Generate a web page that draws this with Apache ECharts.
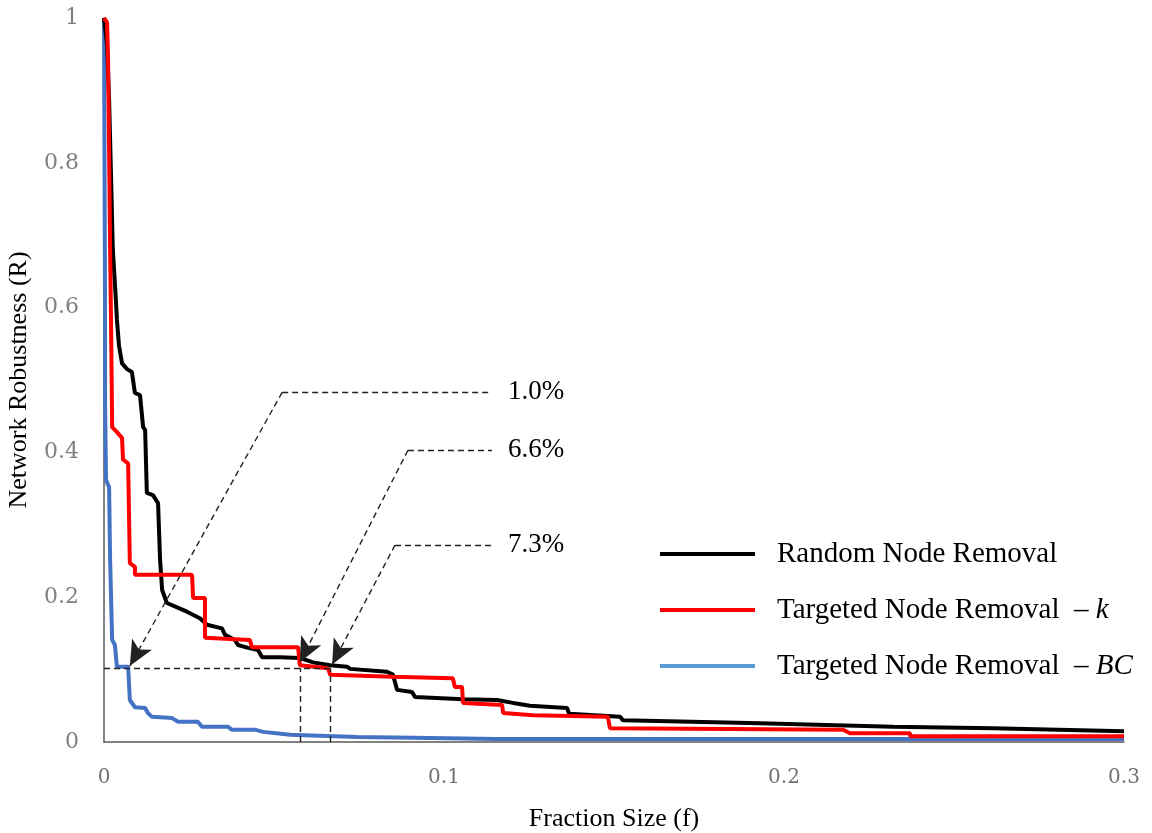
<!DOCTYPE html>
<html>
<head>
<meta charset="utf-8">
<script src="https://cdn.jsdelivr.net/npm/echarts@6/dist/echarts.min.js"></script>
<style>
  html, body { margin: 0; padding: 0; background: #fff; }
  #main { width: 1152px; height: 833px; }
</style>
</head>
<body>
<div id="main"></div>
<script>
// fraction size (f) / robustness (R)
var randomF = [0, 0.0009, 0.0015, 0.0021, 0.0026, 0.0035, 0.0038, 0.0044, 0.0053, 0.0068, 0.0082, 0.0091, 0.0106,
  0.0115, 0.0121, 0.0126, 0.0144, 0.0159, 0.0165, 0.0171, 0.0185, 0.0215, 0.0244, 0.0282, 0.0303, 0.0347,
  0.0356, 0.0385, 0.0394, 0.0424, 0.0453, 0.0465, 0.0518, 0.0576, 0.0615, 0.0665, 0.0715, 0.0724, 0.0832,
  0.0850, 0.0862, 0.0906, 0.0915, 0.1056, 0.1156, 0.1203, 0.1253, 0.1362, 0.1368, 0.1518, 0.1526, 0.1929,
  0.2321, 0.2615, 0.3];
var randomR = [1, 0.963, 0.887, 0.776, 0.680, 0.610, 0.583, 0.548, 0.523, 0.515, 0.511, 0.482, 0.479,
  0.435, 0.431, 0.344, 0.341, 0.330, 0.251, 0.210, 0.192, 0.186, 0.180, 0.171, 0.162, 0.157,
  0.148, 0.141, 0.134, 0.130, 0.127, 0.117, 0.117, 0.116, 0.110, 0.106, 0.104, 0.101, 0.097,
  0.093, 0.072, 0.069, 0.062, 0.059, 0.058, 0.054, 0.050, 0.047, 0.039, 0.035, 0.030, 0.026,
  0.021, 0.019, 0.015];

var degreeF = [0, 0.0009, 0.0012, 0.0015, 0.0018, 0.0021, 0.0024, 0.0038, 0.0053, 0.0056, 0.0071, 0.0076,
  0.0091, 0.0091, 0.0259, 0.0262, 0.0297, 0.0297, 0.0429, 0.0435, 0.0571, 0.0576, 0.0659, 0.0665, 0.0847,
  0.1026, 0.1032, 0.1053, 0.1056, 0.1171, 0.1174, 0.1262, 0.1482, 0.1488, 0.2174, 0.2194, 0.2371, 0.2371, 0.3];
var degreeR = [1, 0.994, 0.942, 0.818, 0.680, 0.569, 0.435, 0.428, 0.420, 0.390, 0.385, 0.247,
  0.242, 0.231, 0.231, 0.199, 0.199, 0.144, 0.141, 0.131, 0.131, 0.106, 0.102, 0.093, 0.090,
  0.088, 0.076, 0.076, 0.054, 0.051, 0.040, 0.037, 0.035, 0.019, 0.017, 0.012, 0.012, 0.008, 0.008];

var bcF = [0, 0.0003, 0.0003, 0.0006, 0.0015, 0.0018, 0.0024, 0.0032, 0.0038, 0.0071, 0.0076, 0.0091, 0.0121,
  0.0129, 0.0141, 0.0200, 0.0218, 0.0276, 0.0288, 0.0365, 0.0376, 0.0444, 0.0468, 0.0547, 0.0744, 0.0909,
  0.1156, 0.3];
var bcR = [1, 0.61, 0.472, 0.362, 0.352, 0.251, 0.141, 0.134, 0.104, 0.104, 0.058, 0.048, 0.047,
  0.040, 0.035, 0.033, 0.028, 0.028, 0.021, 0.021, 0.017, 0.017, 0.014, 0.010, 0.007, 0.006,
  0.004, 0.004];

var seriesNames = ["Random Node Removal", "Targeted Node Removal  \u2013 k", "Targeted Node Removal  \u2013 BC"];

// callouts: label line start (f, R), label line end f, arrow tip (f, R), text
var calloutText = ["1.0%", "6.6%", "7.3%"];
var calloutStart = [[0.0524, 0.483], [0.0894, 0.403], [0.0856, 0.272]];
var calloutEndF = 0.1141;
var calloutTip = [[0.0076, 0.105], [0.0576, 0.110], [0.0671, 0.107]];
var refR = 0.102;
var refF = [0.0576, 0.0665];

function pairs(xs, ys) {
  return xs.map(function (x, i) { return [x, ys[i]]; });
}

var serif = "Liberation Serif";
var markLines = [];
markLines.push([{ coord: [0, refR] }, { coord: [refF[1], refR] }]);
refF.forEach(function (f) {
  markLines.push([{ coord: [f, 0] }, { coord: [f, refR] }]);
});
calloutText.forEach(function (t, i) {
  markLines.push([
    {
      coord: [calloutStart[i][0], calloutStart[i][1]],
      label: {
        show: true, position: "end", formatter: t, distance: 16,
        fontFamily: serif, fontSize: 27, color: "#000"
      }
    },
    { coord: [calloutEndF, calloutStart[i][1]] }
  ]);
  markLines.push([
    { coord: [calloutStart[i][0], calloutStart[i][1]], symbol: "none" },
    { coord: [calloutTip[i][0], calloutTip[i][1]], symbol: "arrow", symbolSize: [17, 25] }
  ]);
});

var myChart = echarts.init(document.getElementById("main"));
myChart.setOption({
  animation: false,
  backgroundColor: "#fff",
  grid: { left: 104, right: 28, top: 18, bottom: 91, containLabel: false, outerBoundsMode: "none" },
  legend: {
    orient: "vertical",
    left: 655,
    top: 534,
    icon: "rect",
    itemWidth: 95,
    itemHeight: 4,
    itemGap: 26,
    data: [
      { name: seriesNames[0], itemStyle: { color: "#000" } },
      { name: seriesNames[1], itemStyle: { color: "#ff0000" } },
      { name: seriesNames[2], itemStyle: { color: "#5b9bd5" } }
    ],
    formatter: function (name) {
      if (name === seriesNames[1]) return "Targeted Node Removal  \u2013 {i|k}";
      if (name === seriesNames[2]) return "Targeted Node Removal  \u2013 {i|BC}";
      return name;
    },
    textStyle: {
      fontFamily: serif,
      fontSize: 29,
      lineHeight: 30,
      color: "#000",
      padding: [0, 0, 0, 17],
      rich: {
        i: { fontFamily: serif, fontSize: 29, fontStyle: "italic", color: "#000", lineHeight: 30 }
      }
    }
  },
  xAxis: {
    type: "value",
    min: 0,
    max: 0.3,
    interval: 0.1,
    name: "Fraction Size (f)",
    nameLocation: "middle",
    nameGap: 64,
    nameTextStyle: { fontFamily: serif, fontSize: 26, color: "#000" },
    axisLine: { show: true, lineStyle: { color: "#595959", width: 1.5 } },
    axisTick: { show: false },
    splitLine: { show: false },
    axisLabel: { margin: 26, fontFamily: "DejaVu Serif", fontSize: 20, color: "#707070" }
  },
  yAxis: {
    type: "value",
    min: 0,
    max: 1,
    interval: 0.2,
    name: "Network Robustness (R)",
    nameLocation: "middle",
    nameGap: 72,
    nameTextStyle: { fontFamily: serif, fontSize: 26, color: "#000" },
    axisLine: { show: true, lineStyle: { color: "#595959", width: 1.5 } },
    axisTick: { show: false },
    splitLine: { show: false },
    axisLabel: { margin: 25, fontFamily: "DejaVu Serif", fontSize: 22, color: "#808080" }
  },
  series: [
    {
      name: seriesNames[2],
      type: "line",
      showSymbol: false,
      data: pairs(bcF, bcR),
      lineStyle: { color: "#4472c4", width: 4 },
      itemStyle: { color: "#4472c4" },
      z: 2,
      markLine: {
        silent: true,
        symbol: ["none", "none"],
        label: { show: false },
        lineStyle: { color: "#222", type: [6, 4], width: 1.4 },
        emphasis: { disabled: true },
        data: markLines
      }
    },
    {
      name: seriesNames[0],
      type: "line",
      showSymbol: false,
      data: pairs(randomF, randomR),
      lineStyle: { color: "#000", width: 4 },
      itemStyle: { color: "#000" },
      z: 3
    },
    {
      name: seriesNames[1],
      type: "line",
      showSymbol: false,
      data: pairs(degreeF, degreeR),
      lineStyle: { color: "#ff0000", width: 4 },
      itemStyle: { color: "#ff0000" },
      z: 4
    }
  ]
});
</script>
</body>
</html>
